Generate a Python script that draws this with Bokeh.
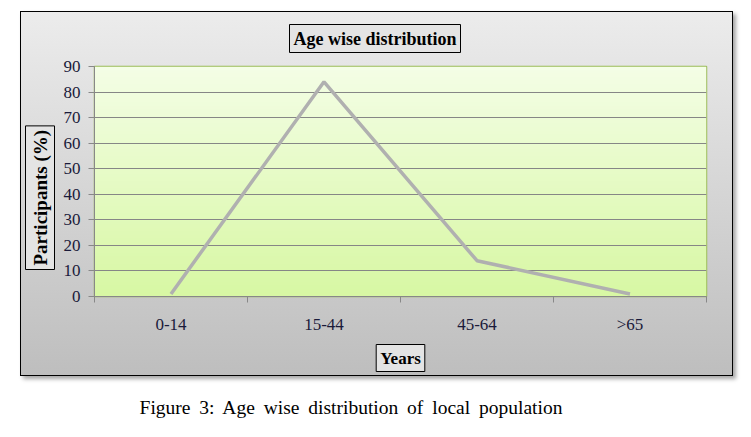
import numpy as np
from bokeh.plotting import figure
from bokeh.models import FixedTicker, Title, Div, Range1d
from bokeh.layouts import column
from bokeh.embed import file_html
from bokeh.resources import INLINE

categories = ["0-14", "15-44", "45-64", ">65"]
participants = [1, 84, 14, 1]
y_ticks = [0, 10, 20, 30, 40, 50, 60, 70, 80, 90]

FONT = "Liberation Serif"

xs = list(range(len(categories)))

p = figure(width=713, height=365, output_backend="svg", toolbar_location=None,
           x_range=Range1d(-0.5, len(categories) - 0.5), y_range=Range1d(0, 90),
           min_border_left=73, min_border_right=28, min_border_top=54, min_border_bottom=78,
           border_fill_color=None, background_fill_color=None, margin=(11, 0, 0, 20))
p.styles = {"background": "linear-gradient(#ececec, #bebebe)",
            "border": "1px solid black",
            "box-shadow": "3px 3px 4px rgba(0,0,0,0.35)",
            "box-sizing": "border-box"}
p.outline_line_color = "#9bbb59"
p.outline_line_width = 1.5

# gradient background of the plot area
n = 64
top = np.array([244, 254, 230])
bot = np.array([216, 248, 164])
img = np.zeros((n, 1), dtype=np.uint32)
view = img.view(dtype=np.uint8).reshape((n, 1, 4))
for i in range(n):
    t = i / (n - 1)
    c = bot * (1 - t) + top * t
    view[i, 0, 0:3] = c.astype(np.uint8)
    view[i, 0, 3] = 255
p.image_rgba(image=[img], x=-0.5, y=0, dw=len(categories), dh=90, level="image")

p.line(xs, participants, line_color="#b0b0b0", line_width=3.5)

p.xaxis.ticker = FixedTicker(ticks=xs, minor_ticks=[i - 0.5 for i in range(len(categories) + 1)])
p.xaxis.major_label_overrides = {i: c for i, c in enumerate(categories)}
p.xaxis.major_tick_line_color = None
p.xaxis.minor_tick_line_color = "#888888"
p.xaxis.minor_tick_out = 6
p.xaxis.minor_tick_in = 0
p.xaxis.axis_line_color = "#888888"
p.xaxis.major_label_standoff = 12

p.yaxis.ticker = FixedTicker(ticks=y_ticks)
p.yaxis.minor_tick_line_color = None
p.yaxis.major_tick_line_color = "#888888"
p.yaxis.major_tick_out = 6
p.yaxis.major_tick_in = 0
p.yaxis.axis_line_color = "#888888"
p.yaxis.major_label_standoff = 8

for ax in (p.xaxis, p.yaxis):
    ax.major_label_text_font = FONT
    ax.major_label_text_font_size = "17px"
    ax.major_label_text_color = "#1a1a3a"

p.xgrid.grid_line_color = None
p.ygrid.grid_line_color = "#868686"
p.ygrid.grid_line_width = 1.2

def boxed_title(text, size="18px", **kw):
    return Title(text=text, text_font=FONT, text_font_size=size, text_font_style="bold",
                 text_color="black", background_fill_color="#e4e4e4",
                 border_line_color="black", border_line_width=1, padding=4, **kw)

p.add_layout(boxed_title("Age wise distribution", align="left", offset=195, standoff=24,
                         vertical_align="top"), "above")
p.add_layout(boxed_title("Participants (%)", size="19px", align="left", offset=27, standoff=8,
                         vertical_align="top"), "left")
p.add_layout(boxed_title("Years", size="17px", align="center", standoff=12), "below")

caption = Div(text="Figure 3: Age wise distribution of local population", width=686, height=30,
              margin=(18, 0, 0, 8),
              styles={"font-family": FONT, "font-size": "19.5px", "text-align": "center",
                      "word-spacing": "4px", "color": "black"})

layout = column(p, caption, spacing=0)

open("out.html", "w").write(file_html(layout, INLINE))
